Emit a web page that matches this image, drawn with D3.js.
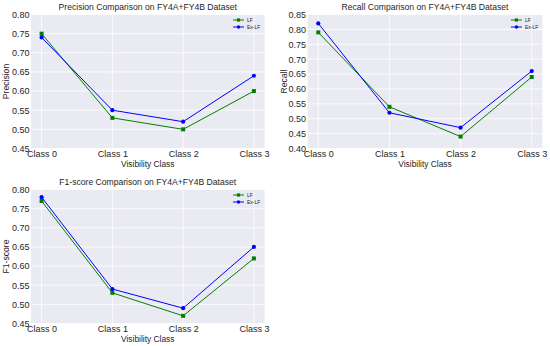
<!DOCTYPE html>
<html><head><meta charset="utf-8">
<script src="https://cdn.jsdelivr.net/npm/d3@7/dist/d3.min.js"></script>
<style>
html,body{margin:0;padding:0;background:#fff;}
svg{display:block;font-family:"Liberation Sans",Arial,sans-serif;}
</style></head>
<body><svg id="c" width="550" height="346"></svg>
<script>
const classes = ["Class 0","Class 1","Class 2","Class 3"];
const seriesNames = ["LF","Ex-LF"];
const precisionLF = [0.75,0.53,0.50,0.60];
const precisionExLF = [0.74,0.55,0.52,0.64];
const recallLF = [0.79,0.54,0.44,0.64];
const recallExLF = [0.82,0.52,0.47,0.66];
const f1LF = [0.77,0.53,0.47,0.62];
const f1ExLF = [0.78,0.54,0.49,0.65];
const precisionTicks = [0.45,0.50,0.55,0.60,0.65,0.70,0.75,0.80];
const recallTicks = [0.40,0.45,0.50,0.55,0.60,0.65,0.70,0.75,0.80,0.85];
const f1Ticks = [0.45,0.50,0.55,0.60,0.65,0.70,0.75,0.80];

const panels = [
  {title:"Precision Comparison on FY4A+FY4B Dataset", ylabel:"Precision", lf:precisionLF, ex:precisionExLF, ticks:precisionTicks, box:[31,264.5,14.5,148.5], ylx:9.3},
  {title:"Recall Comparison on FY4A+FY4B Dataset", ylabel:"Recall", lf:recallLF, ex:recallExLF, ticks:recallTicks, box:[307.6,542.4,14.5,148.5], ylx:286.8},
  {title:"F1-score Comparison on FY4A+FY4B Dataset", ylabel:"F1-score", lf:f1LF, ex:f1ExLF, ticks:f1Ticks, box:[31,264.5,189.5,323.5], ylx:9.3}
];
const colors = {"LF":"#008000","Ex-LF":"#0000ff"};
const txt = "#262626";
const svg = d3.select("#c");

panels.forEach(p=>{
  const [L,R,T,B] = p.box;
  const x = d3.scaleLinear().domain([-0.15,3.15]).range([L,R]);
  const y = d3.scaleLinear().domain([p.ticks[0],p.ticks[p.ticks.length-1]]).range([B,T]);
  const g = svg.append("g");
  g.append("rect").attr("x",L).attr("y",T).attr("width",R-L).attr("height",B-T).attr("fill","#eaeaf2");
  p.ticks.forEach(t=>{
    g.append("line").attr("x1",L).attr("x2",R).attr("y1",y(t)).attr("y2",y(t)).attr("stroke","#fff").attr("stroke-width",0.8);
  });
  classes.forEach((c,i)=>{
    g.append("line").attr("x1",x(i)).attr("x2",x(i)).attr("y1",T).attr("y2",B).attr("stroke","#fff").attr("stroke-width",0.8);
  });
  const yAxis = d3.axisLeft(y).tickValues(p.ticks).tickFormat(d3.format(".2f")).tickSize(0).tickPadding(1.6);
  const ya = g.append("g").attr("transform",`translate(${L},0)`).call(yAxis);
  ya.select(".domain").remove();
  ya.selectAll("text").attr("fill",txt).style("font-size","9px").style("font-family","'Liberation Sans',Arial,sans-serif");
  const xAxis = d3.axisBottom(x).tickValues([0,1,2,3]).tickFormat(i=>classes[i]).tickSize(0).tickPadding(2);
  const xa = g.append("g").attr("transform",`translate(0,${B})`).call(xAxis);
  xa.select(".domain").remove();
  xa.selectAll("text").attr("fill",txt).style("font-size","9px").style("font-family","'Liberation Sans',Arial,sans-serif");
  g.append("text").attr("x",(L+R)/2).attr("y",T-4.5).attr("text-anchor","middle").attr("fill",txt).style("font-size","8.6px").text(p.title);
  g.append("text").attr("x",(L+R)/2).attr("y",B+18.5).attr("text-anchor","middle").attr("fill",txt).style("font-size","8.4px").text("Visibility Class");
  g.append("text").attr("transform",`translate(${p.ylx},${(T+B)/2}) rotate(-90)`).attr("text-anchor","middle").attr("fill",txt).style("font-size","8.6px").text(p.ylabel);
  const line = d3.line().x((d,i)=>x(i)).y(d=>y(d));
  [["LF",p.lf],["Ex-LF",p.ex]].forEach(([name,vals])=>{
    const col = colors[name];
    g.append("path").datum(vals).attr("d",line).attr("fill","none").attr("stroke",col).attr("stroke-width",1);
    vals.forEach((v,i)=>{
      if(name==="LF") g.append("rect").attr("x",x(i)-2).attr("y",y(v)-2).attr("width",4).attr("height",4).attr("fill",col);
      else g.append("circle").attr("cx",x(i)).attr("cy",y(v)).attr("r",2.1).attr("fill",col);
    });
  });
  seriesNames.forEach((name,k)=>{
    const col = colors[name];
    const ly = T+5.5+k*7;
    const lx = R-31.5;
    g.append("line").attr("x1",lx).attr("x2",lx+11).attr("y1",ly).attr("y2",ly).attr("stroke",col).attr("stroke-width",1);
    if(name==="LF") g.append("rect").attr("x",lx+5.5-1.6).attr("y",ly-1.6).attr("width",3.2).attr("height",3.2).attr("fill",col);
    else g.append("circle").attr("cx",lx+5.5).attr("cy",ly).attr("r",1.7).attr("fill",col);
    g.append("text").attr("x",lx+14).attr("y",ly+1.8).attr("fill",txt).style("font-size","5px").text(name);
  });
});
</script></body></html>
